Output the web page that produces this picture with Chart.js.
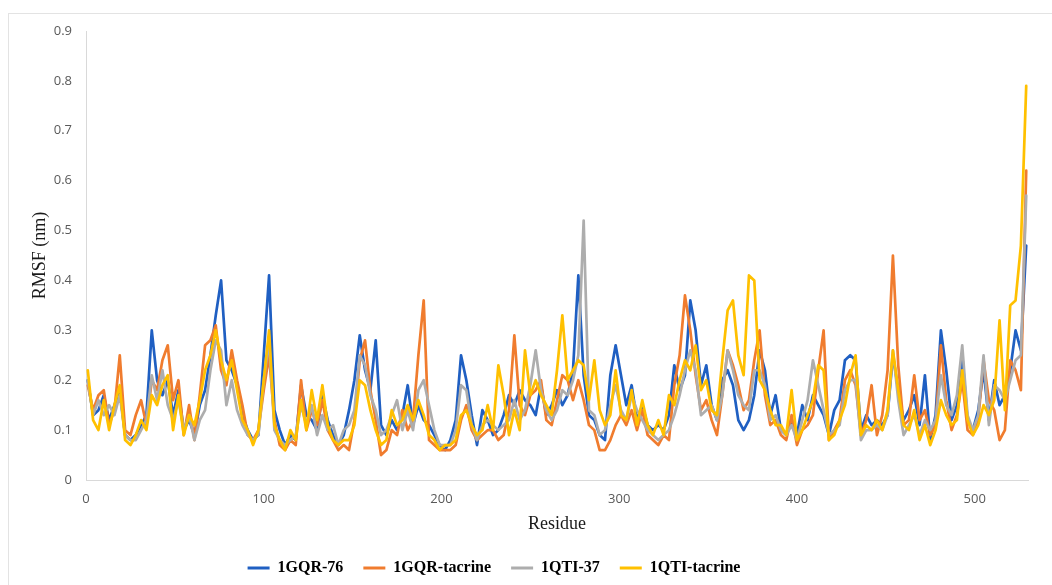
<!DOCTYPE html>
<html>
<head>
<meta charset="utf-8">
<title>RMSF per residue</title>
<script src="https://cdn.jsdelivr.net/npm/chart.js@4.4.1/dist/chart.umd.min.js"></script>
<style>
  html, body { margin: 0; padding: 0; background: #ffffff; }
  #wrap { position: relative; width: 1052px; height: 585px; overflow: hidden; }
  canvas { display: block; }
</style>
</head>
<body>
<div id="wrap"><canvas id="rmsf" width="1052" height="585"></canvas></div>
<script>
// Residue positions (every third residue of the 530-residue chain)
const residues = Array.from({ length: 177 }, (_, i) => 1 + 3 * i);

// RMSF (nm) per sampled residue
const gqr76 = [
  .20,.13,.14,.17,.12,.15,.18,.09,.08,.09,
  .11,.13,.30,.20,.17,.20,.13,.18,.10,.12,
  .09,.15,.18,.25,.33,.40,.24,.22,.19,.13,
  .10,.08,.09,.25,.41,.14,.10,.07,.09,.08,
  .19,.13,.12,.10,.17,.12,.09,.07,.09,.14,
  .20,.29,.22,.18,.28,.11,.09,.12,.10,.13,
  .19,.11,.15,.12,.11,.09,.07,.06,.08,.12,
  .25,.20,.13,.07,.14,.12,.09,.10,.13,.17,
  .15,.18,.16,.15,.13,.19,.13,.15,.18,.15,
  .17,.22,.41,.21,.13,.12,.09,.08,.21,.27,
  .21,.15,.19,.12,.15,.11,.10,.11,.10,.13,
  .23,.18,.21,.36,.30,.19,.23,.15,.12,.20,
  .22,.19,.12,.10,.12,.17,.26,.22,.13,.17,
  .10,.09,.12,.09,.15,.12,.17,.15,.13,.09,
  .14,.16,.24,.25,.24,.10,.13,.11,.12,.11,
  .13,.25,.18,.12,.14,.17,.11,.21,.08,.13,
  .30,.22,.12,.15,.25,.12,.10,.14,.22,.12,
  .20,.15,.17,.22,.30,.26,.47
];
const gqrTacrine = [
  .19,.14,.17,.18,.11,.14,.25,.10,.09,.13,
  .16,.11,.20,.18,.24,.27,.16,.20,.09,.15,
  .08,.17,.27,.28,.31,.22,.19,.26,.20,.15,
  .09,.08,.10,.18,.25,.12,.07,.06,.08,.07,
  .20,.10,.14,.11,.16,.10,.08,.06,.07,.06,
  .12,.24,.28,.18,.12,.05,.06,.10,.09,.14,
  .10,.12,.25,.36,.08,.07,.06,.06,.06,.07,
  .12,.15,.10,.08,.09,.10,.10,.08,.09,.14,
  .29,.15,.13,.17,.18,.20,.12,.11,.16,.21,
  .20,.16,.20,.16,.11,.10,.06,.06,.08,.11,
  .13,.11,.14,.10,.14,.09,.08,.07,.09,.08,
  .19,.25,.37,.30,.21,.14,.16,.12,.09,.17,
  .26,.23,.19,.14,.16,.24,.30,.17,.11,.12,
  .09,.08,.13,.07,.10,.11,.13,.22,.30,.08,
  .10,.12,.20,.22,.19,.09,.12,.19,.09,.13,
  .22,.45,.23,.11,.12,.21,.12,.14,.09,.11,
  .27,.16,.10,.13,.20,.10,.09,.12,.24,.16,
  .14,.08,.10,.24,.22,.18,.62
];
const qti37 = [
  .20,.13,.16,.13,.15,.13,.17,.09,.08,.08,
  .10,.12,.21,.16,.22,.15,.12,.16,.10,.13,
  .08,.12,.14,.22,.28,.26,.15,.20,.14,.11,
  .09,.08,.09,.20,.28,.10,.08,.07,.08,.09,
  .15,.11,.15,.09,.13,.10,.11,.07,.10,.11,
  .14,.25,.23,.17,.14,.09,.10,.13,.16,.10,
  .14,.10,.18,.20,.15,.10,.07,.07,.07,.10,
  .19,.18,.11,.08,.11,.12,.11,.10,.11,.12,
  .16,.12,.14,.19,.26,.18,.14,.12,.14,.18,
  .17,.20,.25,.52,.14,.13,.09,.10,.15,.19,
  .14,.12,.17,.14,.12,.10,.09,.08,.09,.10,
  .13,.17,.22,.26,.22,.13,.14,.15,.12,.17,
  .26,.22,.17,.15,.14,.22,.22,.19,.12,.13,
  .10,.09,.11,.08,.12,.16,.24,.19,.14,.09,
  .10,.11,.18,.20,.20,.08,.10,.10,.11,.10,
  .13,.26,.16,.09,.11,.13,.09,.12,.10,.12,
  .21,.15,.13,.17,.27,.13,.10,.13,.25,.11,
  .19,.18,.16,.20,.24,.25,.57
];
const qtiTacrine = [
  .22,.12,.10,.16,.10,.15,.19,.08,.07,.09,
  .12,.10,.17,.15,.19,.21,.10,.17,.09,.13,
  .11,.16,.22,.25,.30,.24,.20,.24,.18,.12,
  .10,.07,.10,.20,.30,.11,.08,.06,.10,.08,
  .16,.10,.18,.12,.19,.11,.08,.07,.08,.08,
  .11,.20,.19,.14,.10,.07,.08,.14,.11,.12,
  .15,.12,.16,.13,.09,.08,.06,.07,.07,.08,
  .13,.14,.11,.09,.10,.15,.10,.23,.17,.09,
  .14,.10,.26,.17,.20,.17,.15,.13,.22,.33,
  .20,.22,.24,.23,.16,.24,.14,.11,.13,.22,
  .13,.12,.18,.11,.16,.11,.09,.12,.09,.17,
  .15,.20,.24,.22,.27,.18,.20,.14,.13,.24,
  .34,.36,.25,.21,.41,.40,.20,.18,.14,.11,
  .11,.09,.18,.08,.10,.13,.16,.23,.22,.08,
  .09,.12,.15,.21,.25,.09,.11,.10,.12,.10,
  .14,.26,.18,.11,.10,.14,.08,.11,.07,.10,
  .16,.13,.11,.12,.22,.12,.09,.11,.15,.13,
  .16,.32,.14,.35,.36,.47,.79
];

const seriesNames = ['1GQR-76', '1GQR-tacrine', '1QTI-37', '1QTI-tacrine'];
const seriesColors = ['#1F5FC2', '#F07C2E', '#ADADAD', '#FFC000'];
const seriesValues = [gqr76, gqrTacrine, qti37, qtiTacrine];

// Later series sit on top of earlier ones, so the datasets are listed
// last-first (Chart.js paints the first dataset on top) and the legend is reversed.
const datasets = seriesNames.map((name, k) => ({
  label: name,
  data: seriesValues[k],
  borderColor: seriesColors[k],
  backgroundColor: seriesColors[k],
  borderWidth: 2.7,
  pointRadius: 0,
  tension: 0,
  borderJoinStyle: 'round',
  borderCapStyle: 'round',
  fill: false
})).reverse();

// Thin outer frame around the chart
const framePlugin = {
  id: 'frame',
  beforeDraw(chart) {
    const ctx = chart.ctx;
    ctx.save();
    ctx.strokeStyle = '#e3e3e3';
    ctx.lineWidth = 1;
    ctx.strokeRect(8.5, 13.5, 1100, 620);
    ctx.restore();
  }
};

// Keep the legend block centred under the left part of the frame
const legendShift = {
  id: 'legendShift',
  afterLayout(chart) {
    if (chart.legend) {
      chart.legend.left = 0;
      chart.legend.right = 988;
      chart.legend.top += 1;
      chart.legend.bottom += 1;
    }
  }
};

const tickFont = { family: "'Open Sans', 'Liberation Sans', sans-serif", size: 13 };
const serif = "'Liberation Serif', 'Times New Roman', serif";

new Chart(document.getElementById('rmsf'), {
  type: 'line',
  data: { labels: residues, datasets },
  plugins: [framePlugin, legendShift],
  options: {
    responsive: false,
    animation: false,
    devicePixelRatio: 1,
    layout: { padding: { left: 0, top: 31, right: 24, bottom: 0 } },
    plugins: {
      title: { display: false },
      tooltip: { enabled: false },
      legend: {
        position: 'bottom',
        align: 'center',
        reverse: true,
        labels: {
          boxWidth: 22,
          boxHeight: 3,
          padding: 20,
          color: '#000000',
          font: { family: serif, size: 16, weight: 'bold' },
          generateLabels(chart) {
            return chart.data.datasets.map((ds, i) => ({
              text: ds.label,
              fillStyle: ds.borderColor,
              strokeStyle: ds.borderColor,
              lineWidth: 0,
              hidden: false,
              datasetIndex: i
            }));
          }
        }
      }
    },
    scales: {
      x: {
        type: 'linear',
        min: 0,
        max: 530,
        grid: { display: false, drawTicks: false },
        border: { display: true, color: '#d9d9d9', width: 1 },
        ticks: {
          stepSize: 100,
          includeBounds: false,
          autoSkip: false,
          maxRotation: 0,
          padding: 11,
          color: '#595959',
          font: tickFont
        },
        title: {
          display: true,
          text: 'Residue',
          color: '#1a1a1a',
          font: { family: serif, size: 18 },
          padding: { top: 0, bottom: 4 }
        },
        afterFit(scale) { scale.height = 59; }
      },
      y: {
        min: 0,
        max: 0.9,
        grid: { display: false, drawTicks: false },
        border: { display: true, color: '#d9d9d9', width: 1 },
        ticks: {
          stepSize: 0.1,
          padding: 14,
          color: '#595959',
          font: tickFont,
          callback: v => String(+v.toFixed(1))
        },
        title: {
          display: true,
          text: 'RMSF (nm)',
          color: '#1a1a1a',
          font: { family: serif, size: 18 },
          padding: { top: 29, bottom: 0 }
        },
        afterFit(scale) { scale.width = 86; }
      }
    }
  }
});
</script>
</body>
</html>
